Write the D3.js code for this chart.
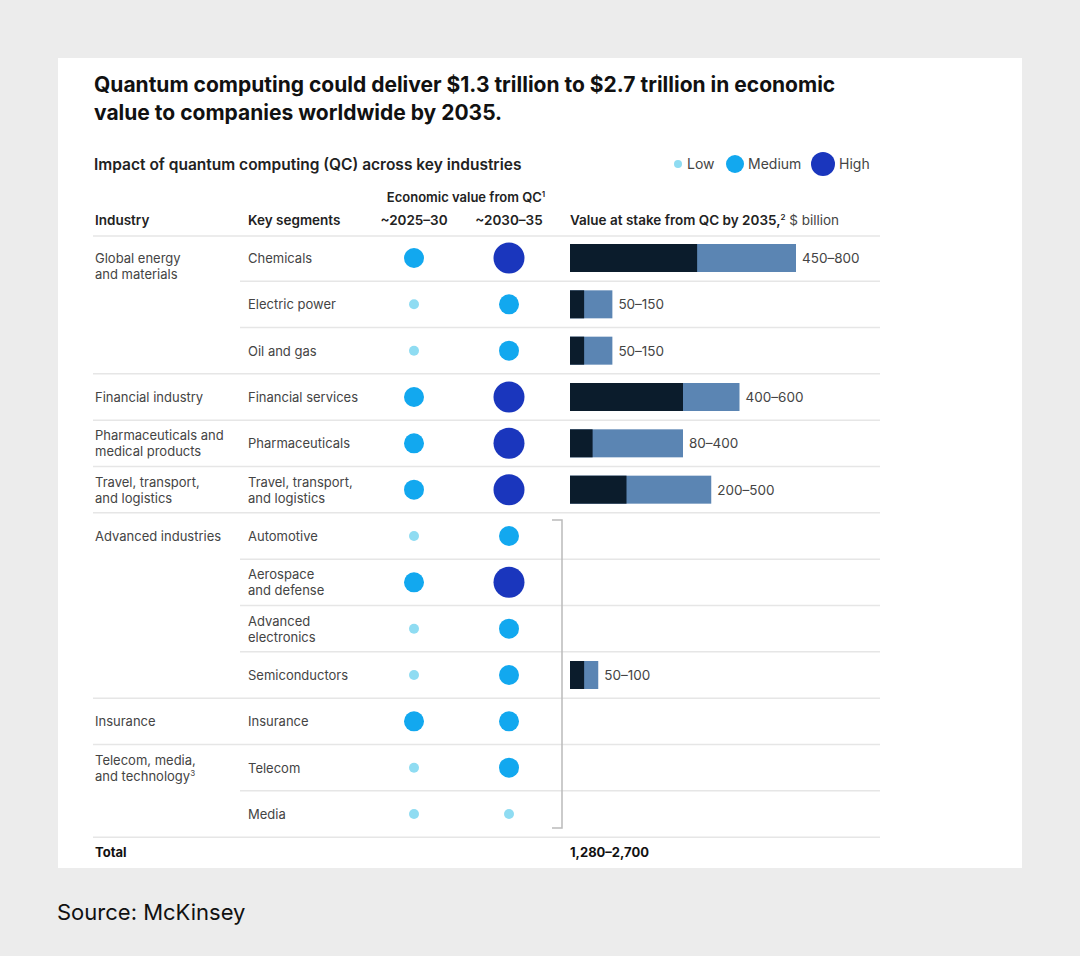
<!DOCTYPE html>
<html><head><meta charset="utf-8">
<script src="https://cdn.jsdelivr.net/npm/d3@7"></script>
<style>body{margin:0;background:#ececec;font-family:Inter,"Noto Sans",sans-serif}</style>
</head><body><svg id="c" width="1080" height="956"></svg>
<script>
// data
var industries = ["Global energy\nand materials","","","Financial industry","Pharmaceuticals and\nmedical products","Travel, transport,\nand logistics","Advanced industries","","","","Insurance","Telecom, media,\nand technology","" ];
var segments = ["Chemicals","Electric power","Oil and gas","Financial services","Pharmaceuticals","Travel, transport,\nand logistics","Automotive","Aerospace\nand defense","Advanced\nelectronics","Semiconductors","Insurance","Telecom","Media"];
var impact2030 = ["Medium","Low","Low","Medium","Medium","Medium","Low","Medium","Low","Low","Medium","Low","Low"];
var impact2035 = ["High","Medium","Medium","High","High","High","Medium","High","Medium","Medium","Medium","Medium","Low"];
var valueLow = [450,50,50,400,80,200,null,null,null,50,null,null,null];
var valueHigh = [800,150,150,600,400,500,null,null,null,100,null,null,null];
var groupStart = [true,false,false,true,true,true,true,false,false,false,true,true,false];

var levels = ["Low","Medium","High"];
var rScale = d3.scaleOrdinal().domain(levels).range([5,10,15.5]);
var cScale = d3.scaleOrdinal().domain(levels).range(["#8fdcf2","#12a8ef","#1a36bd"]);

var svg = d3.select("#c");
svg.append("rect").attr("x",58).attr("y",58).attr("width",964).attr("height",810).attr("fill","#fff");

svg.append("text").attr("x",94).attr("y",92).attr("font-size",21).attr("font-weight",700).attr("fill","#111").text("Quantum computing could deliver $1.3 trillion to $2.7 trillion in economic");
svg.append("text").attr("x",94).attr("y",120).attr("font-size",21).attr("font-weight",700).attr("fill","#111").text("value to companies worldwide by 2035.");
svg.append("text").attr("x",94).attr("y",170).attr("font-size",15.5).attr("font-weight",600).attr("fill","#222").text("Impact of quantum computing (QC) across key industries");

// legend
var lx = [678,735,823];
levels.forEach(function(l,i){
  svg.append("circle").attr("cx",lx[i]).attr("cy",164).attr("r",[4,9,12][i]).attr("fill",cScale(l));
  svg.append("text").attr("x",lx[i]+[9,13,16][i]).attr("y",169).attr("font-size",14).attr("fill","#444").text(l);
});

// headers
var hy = 225;
function head(x,t,anchor){svg.append("text").attr("x",x).attr("y",hy).attr("font-size",13.5).attr("font-weight",600).attr("fill","#222").attr("text-anchor",anchor||"start").text(t);}
head(95,"Industry"); head(248,"Key segments"); head(414,"~2025–30","middle"); head(509,"~2030–35","middle");
var eh = svg.append("text").attr("x",466).attr("y",202).attr("font-size",13).attr("font-weight",600).attr("fill","#222").attr("text-anchor","middle").text("Economic value from QC");
eh.append("tspan").attr("font-size",8).attr("dy",-5).text("1");
var vh = svg.append("text").attr("x",570).attr("y",hy).attr("font-size",13.5).attr("font-weight",600).attr("fill","#222").text("Value at stake from QC by 2035,");
vh.append("tspan").attr("font-size",8).attr("dy",-5).text("2");
vh.append("tspan").attr("dy",5).attr("font-weight",400).attr("fill","#444").text(" $ billion");

var y = d3.scalePoint().domain(d3.range(segments.length)).range([258,814]);
var step = y.step();
var x = d3.scaleLinear().domain([0,800]).range([570,796]);

svg.append("line").attr("x1",93).attr("x2",880).attr("y1",236).attr("y2",236).attr("stroke","#e6e6e6").attr("stroke-width",1.5);

function multiline(g,xx,yy,t,size,fill){
  var lines=t.split("\n");
  var tx=g.append("text").attr("x",xx).attr("font-size",size).attr("fill",fill);
  lines.forEach(function(s,i){tx.append("tspan").attr("x",xx).attr("y",yy+(i-(lines.length-1)/2)*16+5).text(s);});
  return tx;
}

segments.forEach(function(s,i){
  var cy = y(i);
  if(i>0){
    svg.append("line").attr("x1",groupStart[i]?93:240).attr("x2",880).attr("y1",cy-step/2).attr("y2",cy-step/2).attr("stroke","#e6e6e6").attr("stroke-width",1.5);
  }
  if(industries[i]){
    var iy = industries[i].indexOf("\n")>=0 && i===0 ? cy+8 : cy;
    var t=multiline(svg,95,iy,industries[i],13,"#444");
    if(i===11) t.select("tspan:last-child").append("tspan").attr("font-size",8).attr("dy",-5).text("3");
  }
  multiline(svg,248,cy,s,13,"#444");
  svg.append("circle").attr("cx",414).attr("cy",cy).attr("r",rScale(impact2030[i])).attr("fill",cScale(impact2030[i]));
  svg.append("circle").attr("cx",509).attr("cy",cy).attr("r",rScale(impact2035[i])).attr("fill",cScale(impact2035[i]));
  if(valueLow[i]!=null){
    svg.append("rect").attr("x",x(0)).attr("y",cy-14).attr("width",x(valueHigh[i])-x(0)).attr("height",28).attr("fill","#5b85b3");
    svg.append("rect").attr("x",x(0)).attr("y",cy-14).attr("width",x(valueLow[i])-x(0)).attr("height",28).attr("fill","#0b1c2c");
    svg.append("text").attr("x",x(valueHigh[i])+6).attr("y",cy+5).attr("font-size",13.5).attr("fill","#444").text(valueLow[i]+"–"+valueHigh[i]);
  }
});
svg.append("line").attr("x1",93).attr("x2",880).attr("y1",y(12)+step/2).attr("y2",y(12)+step/2).attr("stroke","#e6e6e6").attr("stroke-width",1.5);

// bracket for advanced industries..media
svg.append("path").attr("d","M552,"+(y(6)-16)+"H562V"+(y(12)+14)+"H552").attr("fill","none").attr("stroke","#bbb").attr("stroke-width",1.5);

svg.append("text").attr("x",95).attr("y",857).attr("font-size",13).attr("font-weight",700).attr("fill","#111").text("Total");
svg.append("text").attr("x",570).attr("y",857).attr("font-size",13).attr("font-weight",700).attr("fill","#111").text("1,280–2,700");

svg.append("text").attr("x",57).attr("y",920).attr("font-size",22).attr("fill","#111").text("Source: McKinsey");
</script></body></html>
